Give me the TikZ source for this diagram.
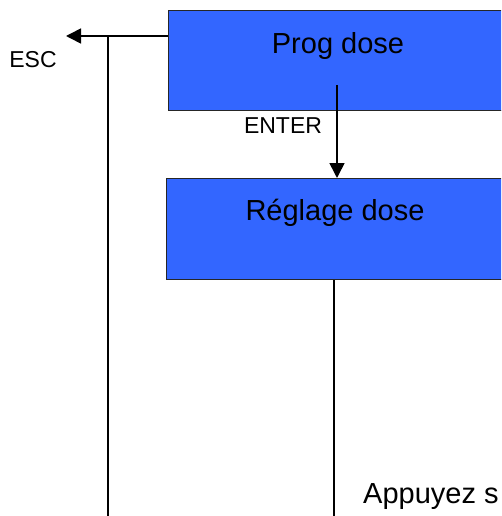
\documentclass[tikz,border=0pt]{standalone}
\usepackage{fontspec}
\setmainfont{Liberation Sans}
\usetikzlibrary{arrows.meta,positioning}
\definecolor{boxblue}{HTML}{3366FF}
\begin{document}
\begin{tikzpicture}[x=1pt,y=-1pt,
	stepbox/.style={draw=black!85, line width=1.3pt, fill=boxblue, rectangle, minimum width=360pt, minimum height=100pt, inner sep=0pt},
	big/.style={font=\fontsize{29}{32}\selectfont, inner sep=0pt},
	small/.style={font=\fontsize{23}{26}\selectfont, inner sep=0pt},
	wire/.style={line width=1.6pt},
	arrow/.style={wire, -{Triangle[length=15pt,width=15pt]}}]
	
	% ---- Frame ----
	\useasboundingbox (0,0) rectangle (501,516);
	\clip (0,0) rectangle (501,516);
	
	% ---- Boxes ----
	\node[stepbox, anchor=north west] (prog) at (168,10) {};
	\node[stepbox, anchor=north west, minimum height=101pt] (reglage) at (166,178) {};
	\node[big] (progtxt) at (338,46) {Prog dose};
	\node[big] (reglagetxt) at (335,213) {Réglage dose};
	
	% ---- Labels ----
	\node[small] (esc) at (33,60) {ESC};
	\node[small] (enter) at (283,126) {ENTER};
	\node[big, anchor=west] (appuyez) at (363,497) {Appuyez s};
	
	% ---- Points for connectors ----
	\coordinate (escout) at (prog.west |- 0,36);
	\coordinate (escend) at (66,36);
	\coordinate (split) at (108,36);
	\coordinate (leftbot) at (108,516);
	\coordinate (enterstart) at (337,85);
	\coordinate (regbot) at (334,516);
	
	% ---- Connectors ----
	\draw[arrow] (escout) -- (escend);
	\draw[wire] (split) -- (leftbot);
	\draw[arrow] (enterstart) -- (enterstart |- reglage.north);
	\draw[wire] (reglage.south -| regbot) -- (regbot);
	
\end{tikzpicture}
\end{document}
